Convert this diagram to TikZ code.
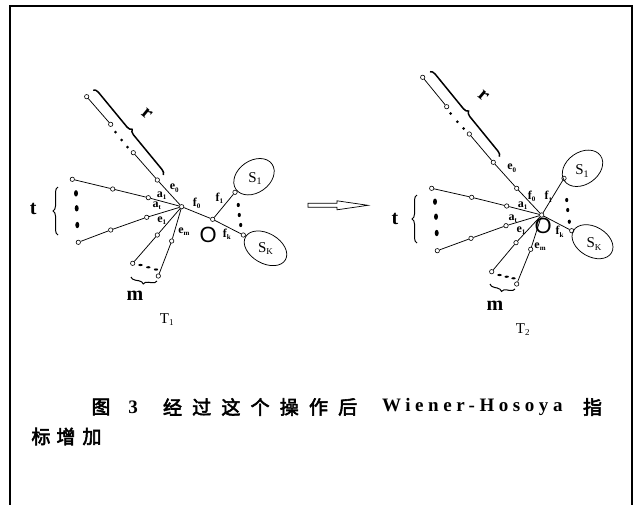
\documentclass[tikz,border=0pt]{standalone}
\usepackage{fontspec}
\setmainfont{Liberation Serif}
\newfontfamily\cjk{Noto Sans CJK SC}[AutoFakeBold=3]
\newfontfamily\osans{Liberation Sans}
\usetikzlibrary{decorations.pathreplacing,shapes.geometric}
\newcommand\lsub[2]{#1\raisebox{-0.4ex}{\fontsize{7}{7}\selectfont #2}}
\begin{document}
\begin{tikzpicture}[x=1pt,y=-1pt,
 vtx/.style={circle,draw,fill=white,inner sep=0pt,minimum size=4.4pt,line width=0.6pt},
 edge/.style={line width=0.75pt},
 lbl/.style={font=\fontsize{12}{12}\selectfont\bfseries,inner sep=0pt},
 big/.style={font=\fontsize{20}{20}\selectfont\bfseries,inner sep=0pt},
 sl/.style={font=\fontsize{15}{15}\selectfont,inner sep=0pt},
 onode/.style={font=\osans\fontsize{22}{22}\selectfont,inner sep=0pt},
 captxt/.style={font=\cjk\bfseries\fontsize{19}{19}\selectfont,inner sep=0pt},
 lat/.style={font=\bfseries\fontsize{19}{19}\selectfont\addfontfeature{LetterSpace=24},inner sep=0pt},
 brc/.style={decorate,decoration={brace,amplitude=5pt},line width=1pt},
 sel/.style={draw,ellipse,line width=0.75pt,inner sep=0pt}
]
\useasboundingbox (0,0) rectangle (635,504);
\draw[line width=2pt] (10,530) -- (10,6) -- (632,6) -- (632,530);

% ---------------- left tree T1 ----------------
\node[vtx] (c1) at (181.7,206.7) {};
\node[vtx] (r11) at (157.3,180) {};
\node[vtx] (r12) at (133.3,152.7) {};
\node[vtx] (r13) at (110.7,124.3) {};
\node[vtx] (r14) at (86.7,96.7) {};
\node[vtx] (a11) at (148.3,197.7) {};
\node[vtx] (a12) at (112.7,189) {};
\node[vtx] (a13) at (72.3,179.3) {};
\node[vtx] (b11) at (146.7,217.3) {};
\node[vtx] (b12) at (110.7,230) {};
\node[vtx] (b13) at (78.3,242.3) {};
\node[vtx] (m11) at (157.3,235) {};
\node[vtx] (m12) at (132.7,263.3) {};
\node[vtx] (n11) at (171.7,241) {};
\node[vtx] (n12) at (158.3,276) {};
\node[vtx] (p1) at (212.7,219.3) {};
\node[vtx] (q1) at (243.3,235) {};
\node[vtx] (u1) at (235,192.3) {};
\node[sel,minimum width=44pt,minimum height=32pt,rotate=35] (s1a) at (254,176.7) {};
\node[sel,minimum width=46pt,minimum height=30pt,rotate=-30] (ska) at (265.5,248.3) {};
\draw[edge] (c1) -- (r11) -- (r12);
\draw[edge] (r13) -- (r14);
\draw[edge] (c1) -- (a11) -- (a12) -- (a13);
\draw[edge] (c1) -- (b11) -- (b12) -- (b13);
\draw[edge] (c1) -- (m11) -- (m12);
\draw[edge] (c1) -- (n11) -- (n12);
\draw[edge] (c1) -- (p1) -- (q1);
\draw[edge] (p1) -- (u1);
\foreach \p in {(115.5,132),(121.7,140),(127.5,147)} \fill \p circle (1.5);
\foreach \p in {(76,193.3),(76.7,208.3),(77.3,225)} \fill \p ellipse [x radius=2, y radius=3.2];
\foreach \p in {(140.5,265),(148.3,267.3),(156,269.5)} \fill \p ellipse [x radius=2.2, y radius=1.1];
\foreach \p in {(238.3,205),(239.3,215),(240.7,225)} \fill \p ellipse [x radius=1.6, y radius=2.1];
\draw[brc,line width=1.5pt] (93.3,90) -- (163.3,175);
\draw[brc] (58,235) -- (58,187);
\draw[brc] (157,281) -- (131,277);
\node[big,rotate=-40] (rl1) at (146.7,114) {r};
\node[big] (tl1) at (33.3,209) {t};
\node[big] (ml1) at (135,296) {m};
\node[sl] (T1) at (166.7,320) {T\raisebox{-0.3ex}{\fontsize{9}{9}\selectfont 1}};
\node[sl] (S1l) at (255,178.5) {S\raisebox{-0.3ex}{\fontsize{10}{10}\selectfont 1}};
\node[sl] (Skl) at (265.5,248.5) {S\raisebox{-0.3ex}{\fontsize{9}{9}\selectfont K}};
\node[onode] (O1) at (208.3,235) {O};
\node[lbl] (e0a) at (174.3,188.3) {\lsub{e}{0}};
\node[lbl] (a1a) at (161.7,196) {\lsub{a}{1}};
\node[lbl] (ata) at (156.7,206) {\lsub{a}{t}};
\node[lbl] (e1a) at (161.7,221) {\lsub{e}{1}};
\node[lbl] (ema) at (184,231.5) {\lsub{e}{m}};
\node[lbl] (f0a) at (196.7,203.3) {\lsub{f}{0}};
\node[lbl] (f1a) at (219.3,198.3) {\lsub{f}{1}};
\node[lbl] (fka) at (226.7,234) {\lsub{f}{k}};

% ---------------- arrow ----------------
\draw[line width=0.7pt,fill=white] (308,203.3) -- (337,203.3) -- (337,200.8) -- (368,205.3) -- (337,209.8) -- (337,207.3) -- (308,207.3) -- cycle;

% ---------------- right tree T2 ----------------
\node[vtx] (c2) at (541.7,215) {};
\node[vtx] (r21) at (516.7,188.3) {};
\node[vtx] (r22) at (493.3,162.3) {};
\node[vtx] (r23) at (469.3,134) {};
\node[vtx] (r24) at (446.7,106.7) {};
\node[vtx] (r25) at (422.7,77.3) {};
\node[vtx] (a21) at (506.7,206) {};
\node[vtx] (a22) at (471.7,197.3) {};
\node[vtx] (a23) at (431.7,188.3) {};
\node[vtx] (b21) at (506,225.7) {};
\node[vtx] (b22) at (471,238.3) {};
\node[vtx] (b23) at (437.3,250.7) {};
\node[vtx] (m21) at (516,242.7) {};
\node[vtx] (m22) at (491.7,271.7) {};
\node[vtx] (n21) at (530.7,249.3) {};
\node[vtx] (n22) at (516.7,284) {};
\node[vtx] (u2) at (564,178.3) {};
\node[vtx] (q2) at (571.7,230.7) {};
\node[sel,minimum width=44pt,minimum height=32pt,rotate=35] (s1b) at (582.5,168.3) {};
\node[sel,minimum width=44pt,minimum height=30pt,rotate=-30] (skb) at (592.5,241.7) {};
\draw[edge] (c2) -- (r21) -- (r22) -- (r23);
\draw[edge] (r24) -- (r25);
\draw[edge] (c2) -- (a21) -- (a22) -- (a23);
\draw[edge] (c2) -- (b21) -- (b22) -- (b23);
\draw[edge] (c2) -- (m21) -- (m22);
\draw[edge] (c2) -- (n21) -- (n22);
\draw[edge] (c2) -- (u2);
\draw[edge] (c2) -- (q2);
\foreach \p in {(450.5,113.5),(457.3,121.7),(463.5,128.5)} \fill \p circle (1.5);
\foreach \p in {(435,201.7),(436,216.7),(436.7,233)} \fill \p ellipse [x radius=2, y radius=3.2];
\foreach \p in {(499.5,275),(506.7,276.7),(513.5,278.3)} \fill \p ellipse [x radius=2.2, y radius=1.1];
\foreach \p in {(566.7,200),(567.7,210),(569.3,221.7)} \fill \p ellipse [x radius=1.6, y radius=2.1];
\draw[brc,line width=1.5pt] (430,71.7) -- (499.3,156.7);
\draw[brc] (417,243) -- (417,195);
\draw[brc] (515,289) -- (490,284);
\node[big,rotate=-40] (rl2) at (483.3,96) {r};
\node[big] (tl2) at (395,219) {t};
\node[big] (ml2) at (495,306) {m};
\node[sl] (T2) at (522.7,330) {T\raisebox{-0.3ex}{\fontsize{9}{9}\selectfont 2}};
\node[sl] (S1r) at (582,171) {S\raisebox{-0.3ex}{\fontsize{10}{10}\selectfont 1}};
\node[sl] (Skr) at (594,244) {S\raisebox{-0.3ex}{\fontsize{9}{9}\selectfont K}};
\node[onode] (O2) at (543.3,226) {O};
\node[lbl] (e0b) at (511.7,168.3) {\lsub{e}{0}};
\node[lbl] (f0b) at (531.7,196.7) {\lsub{f}{0}};
\node[lbl] (f1b) at (548.3,196.7) {\lsub{f}{1}};
\node[lbl] (a1b) at (522.7,205.7) {\lsub{a}{1}};
\node[lbl] (atb) at (512.7,219) {\lsub{a}{t}};
\node[lbl] (e1b) at (521,230.7) {\lsub{e}{1}};
\node[lbl] (emb) at (540,247) {\lsub{e}{m}};
\node[lbl] (fkb) at (559.5,231.7) {\lsub{f}{k}};

% ---------------- caption ----------------
\node[captxt] (g1) at (101,407) {图};
\node[lat] (g2) at (133,407) {3};
\foreach \c [count=\i] in {经,过,这,个,操,作,后}
  \node[captxt] (h\i) at (172.5+29.2*\i-29.2,407) {\c};
\node[lat,anchor=west] (g3) at (382,407) {Wiener-Hosoya};
\node[captxt] (g4) at (592.5,407) {指};
\node[captxt] (k1) at (41,436.5) {标};
\node[captxt] (k2) at (66,436.5) {增};
\node[captxt] (k3) at (92,436.5) {加};
\end{tikzpicture}
\end{document}
